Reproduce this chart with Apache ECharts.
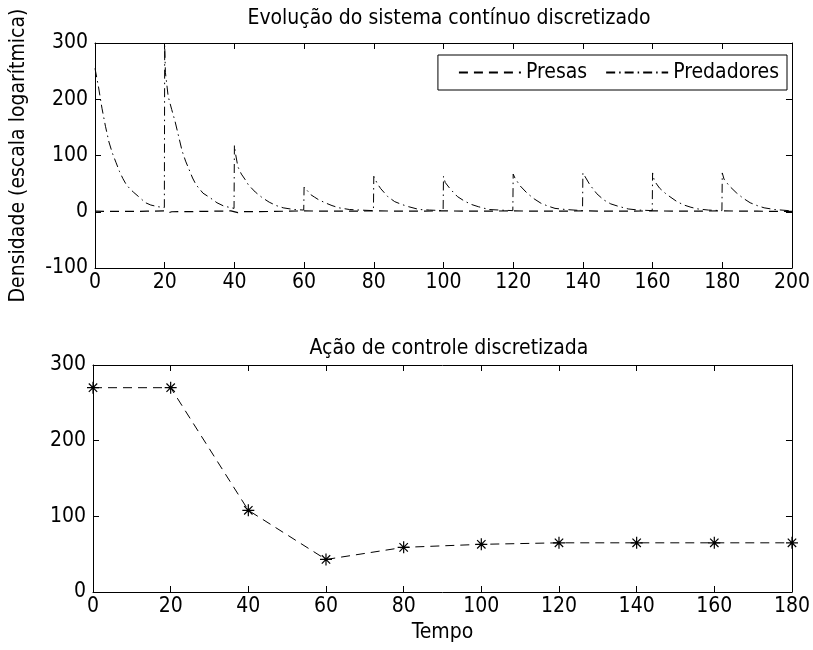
<!DOCTYPE html>
<html><head><meta charset="utf-8">
<script src="https://cdn.jsdelivr.net/npm/echarts@6/dist/echarts.min.js"></script>
<style>html,body{margin:0;padding:0;background:#fff}#c{width:813px;height:650px}</style>
</head><body><div id="c"></div>
<script>
// ---- data ----
const topXTicks = [0, 20, 40, 60, 80, 100, 120, 140, 160, 180, 200];
const topYTicks = [-100, 0, 100, 200, 300];
const botXTicks = [0, 20, 40, 60, 80, 100, 120, 140, 160, 180];
const botYTicks = [0, 100, 200, 300];

// Predadores: [tempo, densidade]
const predadores = [
  [0,255],[1,222],[2,184],[3,152],[4,124],[5,104],[6,88],[7,72],[8,59],[9,48],[10,41],[11,35],[12.5,27],[14.5,16],[16,12],[18,9],[19.9,7.5],
  [20,7.5],[20,296],[20.2,248],[21,205],[22,182],[23,160],[24,134],[25,108],[26,90],[27,75],[28,60],[29,48],[31,33],[33,25],[35,16],[37,10],[39.9,6],
  [40,6],[40,118],[40.3,104],[41,80],[42,67],[43,58],[44,48],[46,35],[48,25],[50,17],[52,11],[54,7],[57,4],[59.9,3],
  [60,3],[60,44],[61,37],[62,30],[63,26],[64,22],[66,16],[68,11],[70,7],[73,4],[76,3],[79.9,2],
  [80,2],[80,63],[81,50],[82,41],[84,27],[86,18],[88,13],[90,9],[93,4],[96,3],[99.9,2],
  [100,2],[100,63],[100.5,52],[102,40],[104,27],[106,19],[108,13],[110,9],[113,4],[116,3],[119.9,2],
  [120,2],[120,67],[120.5,60],[122,46],[124,33],[126,23],[128,15],[130,10],[132,6],[135,4],[139.9,2],
  [140,2],[140,69],[140.3,66],[142,48],[144,32],[146,21],[148,14],[150,10],[153,5],[156,3],[159.9,2],
  [160,2],[160,69],[160.5,55],[162,42],[164,31],[167,18],[169,12],[171,8],[173,5],[176,3],[179.9,2],
  [180,2],[180,69],[180.5,58],[182,46],[184,34],[186,24],[188,16],[190,11],[192,7],[195,4],[200,1.5]
];
// Presas: [tempo, densidade]
const presas = [
  [0,1],[5,0.5],[10,0.5],[15,1],[20,1.5],[21,-2],[22,0],[30,0.5],[39,1.5],[41,-1.5],[42,0],[50,0.5],
  [60,1.5],[70,1],[80,1.5],[90,1],[100,1.5],[110,1],[120,1.5],[130,1],[140,1.5],[150,1],[160,1.5],
  [170,1],[180,1.5],[190,1],[200,0.5]
];
// Ação de controle
const tempoControle = [0, 20, 40, 60, 80, 100, 120, 140, 160, 180];
const controle = [270, 270, 108, 43, 59, 63, 65, 65, 65, 65];

// ---- chart ----
const FONT = '"DejaVu Sans Condensed", "Liberation Sans Narrow", sans-serif';
const FS = 21;
const axisLine = {show: true, onZero: false, lineStyle: {color: '#000', width: 1}};
function mkX(grid, ticks, pos, labels, extra) {
  return Object.assign({
    type: 'value', gridIndex: grid, position: pos,
    min: ticks[0], max: ticks[ticks.length - 1], interval: ticks[1] - ticks[0],
    axisLine: axisLine,
    axisTick: {show: true, inside: true, length: 6, lineStyle: {color: '#000'}},
    axisLabel: {show: labels, color: '#000', fontFamily: FONT, fontSize: FS, margin: 4},
    splitLine: {show: false}
  }, extra || {});
}
function mkY(grid, ticks, pos, labels, extra) {
  return Object.assign({
    type: 'value', gridIndex: grid, position: pos,
    min: ticks[0], max: ticks[ticks.length - 1], interval: ticks[1] - ticks[0],
    axisLine: axisLine,
    axisTick: {show: true, inside: true, length: 6, lineStyle: {color: '#000'}},
    axisLabel: {show: labels, color: '#000', fontFamily: FONT, fontSize: FS, margin: 7},
    splitLine: {show: false}
  }, extra || {});
}
const asterisk = 'path://M5,0L5,10M0,5L10,5M1.5,1.5L8.5,8.5M1.5,8.5L8.5,1.5';

const chart = echarts.init(document.getElementById('c'), null, {renderer: 'canvas'});
chart.setOption({
  backgroundColor: '#fff',
  animation: false,
  textStyle: {fontFamily: FONT},
  title: [
    {text: 'Evolução do sistema contínuo discretizado', left: 444, top: 3, textAlign: 'center',
     textStyle: {fontFamily: FONT, fontSize: FS, fontWeight: 'normal', color: '#000'}},
    {text: 'Ação de controle discretizada', left: 444, top: 333, textAlign: 'center',
     textStyle: {fontFamily: FONT, fontSize: FS, fontWeight: 'normal', color: '#000'}}
  ],
  legend: {
    right: 26, top: 55, orient: 'horizontal',
    backgroundColor: '#fff', borderColor: '#000', borderWidth: 1,
    padding: [7, 8, 7, 20], itemGap: 18, itemWidth: 62, itemHeight: 10,
    itemStyle: {color: 'rgba(0,0,0,0)', borderWidth: 0, opacity: 0},
    textStyle: {fontFamily: FONT, fontSize: FS, color: '#000', padding: [0, 0, 0, 0]},
    data: ['Presas', 'Predadores']
  },
  grid: [
    {left: 93, right: 18, top: 43, height: 225, show: false},
    {left: 93, right: 18, top: 365, height: 227, show: false}
  ],
  xAxis: [
    mkX(0, topXTicks, 'bottom', true),
    mkX(0, topXTicks, 'top', false),
    mkX(1, botXTicks, 'bottom', true, {name: 'Tempo', nameLocation: 'middle', nameGap: 30,
      nameTextStyle: {fontFamily: FONT, fontSize: FS, color: '#000'}}),
    mkX(1, botXTicks, 'top', false)
  ],
  yAxis: [
    mkY(0, topYTicks, 'left', true, {name: 'Densidade (escala logarítmica)', nameLocation: 'middle', nameGap: 66,
      nameTextStyle: {fontFamily: FONT, fontSize: FS, color: '#000'}}),
    mkY(0, topYTicks, 'right', false),
    mkY(1, botYTicks, 'left', true),
    mkY(1, botYTicks, 'right', false)
  ],
  series: [
    {name: 'Presas', type: 'line', xAxisIndex: 0, yAxisIndex: 0, data: presas,
     symbol: 'none', itemStyle: {color: '#000'},
     lineStyle: {color: '#000', width: 1.2, type: [9, 6]}},
    {name: 'Predadores', type: 'line', xAxisIndex: 0, yAxisIndex: 0, data: predadores,
     symbol: 'none', itemStyle: {color: '#000'},
     lineStyle: {color: '#000', width: 1, type: [9, 4, 1.5, 4]}},
    {name: 'Controle', type: 'line', xAxisIndex: 2, yAxisIndex: 2,
     data: tempoControle.map((t, i) => [t, controle[i]]),
     symbol: asterisk, symbolSize: 12,
     itemStyle: {color: 'rgba(0,0,0,0)', borderColor: '#000', borderWidth: 1.2},
     lineStyle: {color: '#000', width: 1, type: [9, 6]}}
  ]
});
</script></body></html>
